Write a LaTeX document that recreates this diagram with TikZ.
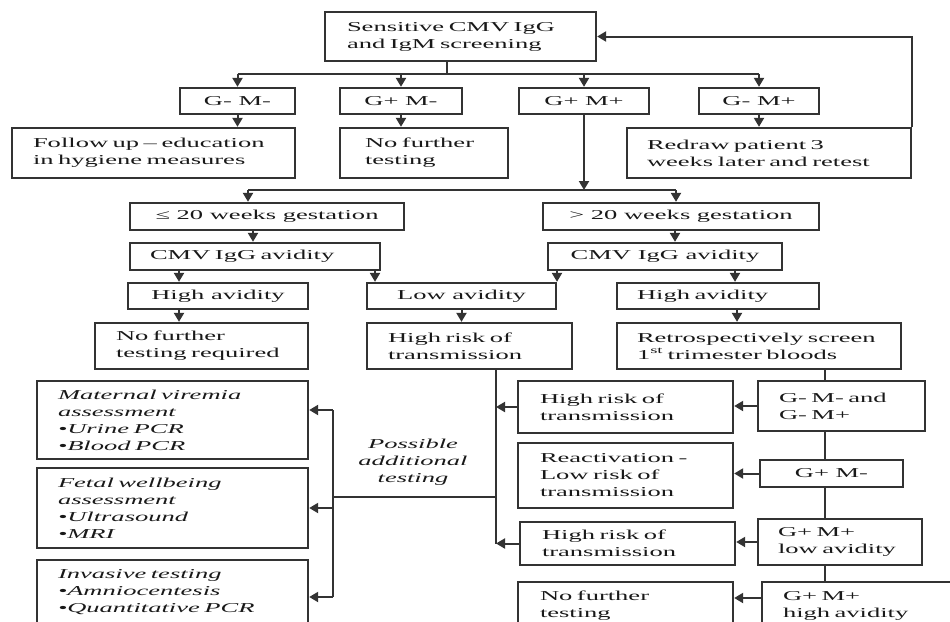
\documentclass[tikz,border=0pt]{standalone}
\usepackage{fontspec}
\setmainfont{Liberation Serif}[FakeStretch=1.95]
\usetikzlibrary{arrows.meta}
\newcommand\fsz{\fontsize{13.6}{17}\selectfont}
\begin{document}
\begin{tikzpicture}[x=1pt,y=-1pt,
  box/.style={draw=black!80, line width=2.3pt, inner sep=0pt, font=\fsz, text=black!90},
  cbox/.style={box, align=center},
  lbox/.style={box, align=left},
  ibox/.style={box, align=left, font=\fsz\itshape},
  ln/.style={draw=black!80, line width=2pt},
  arr/.style={ln, -{Triangle[length=9pt,width=10pt]}}]
\useasboundingbox (0,0) rectangle (950,621);
\fill[white] (0,0) rectangle (950,621);
\clip (0,0) rectangle (950,621);

% top row
\node[lbox, minimum width=271pt, minimum height=49pt, text width=227pt] (top) at (460.5,36.5) {Sensitive CMV IgG\\and IgM screening};
\node[cbox, minimum width=115pt, minimum height=26pt] (gmm) at (237.5,101) {G- M-};
\node[cbox, minimum width=122pt, minimum height=26pt] (gpm) at (401,101) {G+ M-};
\node[cbox, minimum width=130pt, minimum height=26pt] (gpp) at (584,101) {G+ M+};
\node[cbox, minimum width=120pt, minimum height=26pt] (gmp) at (759,101) {G- M+};
\node[lbox, minimum width=283pt, minimum height=50pt, text width=241pt] (follow) at (153.5,153) {Follow up – education\\in hygiene measures};
\node[lbox, minimum width=168pt, minimum height=50pt, text width=118pt] (nf1) at (424,153) {No further\\testing};
\node[lbox, minimum width=284pt, minimum height=50pt, text width=244pt] (redraw) at (769,153) {Redraw patient 3\\\mbox{weeks later and retest}};

% gestation
\node[cbox, minimum width=274pt, minimum height=27pt] (le20) at (267,216.5) {≤ 20 weeks gestation};
\node[cbox, minimum width=276pt, minimum height=27pt] (gt20) at (681,216.5) {> 20 weeks gestation};
\node[lbox, minimum width=250pt, minimum height=27pt, text width=210pt] (cmvL) at (255,256.5) {CMV IgG avidity};
\node[cbox, minimum width=234pt, minimum height=27pt] (cmvR) at (665,256.5) {CMV IgG avidity};
\node[cbox, minimum width=180pt, minimum height=26pt] (hiL) at (218,296) {High avidity};
\node[cbox, minimum width=189pt, minimum height=26pt] (lowA) at (461.5,296) {Low avidity};
\node[lbox, minimum width=202pt, minimum height=26pt, text width=162pt] (hiR) at (718,296) {High avidity};
\node[lbox, minimum width=213pt, minimum height=46pt, text width=171pt] (nfr) at (201.5,346) {No further\\\mbox{testing required}};
\node[lbox, minimum width=205pt, minimum height=46pt, text width=163pt] (hrt) at (469.5,346) {High risk of\\transmission};
\node[lbox, minimum width=284pt, minimum height=46pt, text width=244pt] (retro) at (759,346) {\mbox{Retrospectively screen}\\\mbox{1\textsuperscript{st} trimester bloods}};

% left additional testing boxes
\node[ibox, minimum width=271pt, minimum height=78pt, text width=229pt] (mat) at (172.5,420) {Maternal viremia\\assessment\\•Urine PCR\\•Blood PCR};
\node[ibox, minimum width=271pt, minimum height=80pt, text width=229pt] (fet) at (172.5,508) {Fetal wellbeing\\assessment\\•Ultrasound\\•MRI};
\node[ibox, minimum width=271pt, minimum height=64pt, text width=229pt] (inv) at (172.5,592) {Invasive testing\\•Amniocentesis\\•Quantitative PCR};
\node[font=\fsz\itshape, text=black!90, align=center, inner sep=0pt] (pat) at (413,462) {Possible\\additional\\testing};

% right side boxes
\node[lbox, minimum width=215pt, minimum height=52pt, text width=171pt] (hr1) at (625.5,407) {High risk of\\transmission};
\node[lbox, minimum width=215pt, minimum height=65pt, text width=171pt] (react) at (625.5,475.5) {Reactivation -\\Low risk of\\transmission};
\node[lbox, minimum width=215pt, minimum height=43pt, text width=171pt] (hr2) at (627.5,543.5) {High risk of\\transmission};
\node[lbox, minimum width=215pt, minimum height=48pt, text width=171pt] (nf2) at (625.5,606) {No further\\testing};
\node[lbox, minimum width=167pt, minimum height=50pt, text width=125pt] (gg) at (841.5,406) {\mbox{G- M- and}\\G- M+};
\node[cbox, minimum width=143pt, minimum height=27pt] (gpm2) at (831.5,473.5) {G+ M-};
\node[lbox, minimum width=164pt, minimum height=46pt, text width=124pt] (gpplow) at (840,542) {G+ M+\\\mbox{low avidity}};
\node[lbox, minimum width=218pt, minimum height=48pt, text width=176pt] (gpphigh) at (871,606) {G+ M+\\\mbox{high avidity}};

% connectors: top part
\coordinate (b1) at (447,74);
\draw[ln] (top.south -| b1) -- (b1);
\draw[ln] (gmm.north |- b1) -- (gmp.north |- b1);
\foreach \n in {gmm,gpm,gpp,gmp} \draw[arr] (\n.north |- b1) -- (\n.north);
\draw[arr] (gmm.south) -- (gmm.south |- follow.north);
\draw[arr] (gpm.south) -- (gpm.south |- nf1.north);
\draw[arr] (gmp.south) -- (gmp.south |- redraw.north);
\draw[arr] (redraw.north east) |- (top.east);

\coordinate (b2L) at (248,190);
\coordinate (b2R) at (676,190);
\draw[arr] (gpp.south) -- (gpp.south |- b2L);
\draw[ln] (b2L) -- (b2R);
\draw[arr] (b2L) -- (b2L |- le20.north);
\draw[arr] (b2R) -- (b2R |- gt20.north);
\draw[arr] (le20.south -| 253,0) -- (cmvL.north -| 253,0);
\draw[arr] (gt20.south -| 675,0) -- (cmvR.north -| 675,0);
\draw[arr] (cmvL.south -| 179,0) -- (hiL.north -| 179,0);
\draw[arr] (cmvL.south -| 375,0) -- (lowA.north -| 375,0);
\draw[arr] (cmvR.south -| 557,0) -- (lowA.north -| 557,0);
\draw[arr] (cmvR.south -| 735,0) -- (hiR.north -| 735,0);
\draw[arr] (hiL.south -| 179,0) -- (nfr.north -| 179,0);
\draw[arr] (lowA.south) -- (lowA.south |- hrt.north);
\draw[arr] (hiR.south -| 737,0) -- (retro.north -| 737,0);

% collecting line to additional testing
\coordinate (vA) at (496,497);
\coordinate (vB) at (333,497);
\draw[ln] (hrt.south -| vA) -- (hr2.west -| vA);
\draw[arr] (hr1.west) -- (hr1.west -| vA);
\draw[arr] (hr2.west) -- (hr2.west -| vA);
\draw[ln] (vA) -- (vB);
\draw[ln] (vB |- 0,410) -- (vB |- 0,597);
\draw[arr] (vB |- 0,410) -- (mat.east |- 0,410);
\draw[arr] (vB |- fet.east) -- (fet.east);
\draw[arr] (vB |- 0,597) -- (inv.east |- 0,597);

% right column
\coordinate (rc) at (825,0);
\draw[ln] (retro.south -| rc) -- (gg.north -| rc);
\draw[ln] (gg.south -| rc) -- (gpm2.north -| rc);
\draw[ln] (gpm2.south -| rc) -- (gpplow.north -| rc);
\draw[ln] (gpplow.south -| rc) -- (gpphigh.north -| rc);
\draw[arr] (gg.west) -- (hr1.east |- gg.west);
\draw[arr] (gpm2.west) -- (react.east |- gpm2.west);
\draw[arr] (gpplow.west) -- (hr2.east |- gpplow.west);
\draw[arr] (gpphigh.west |- 0,598) -- (nf2.east |- 0,598);
\end{tikzpicture}
\end{document}
